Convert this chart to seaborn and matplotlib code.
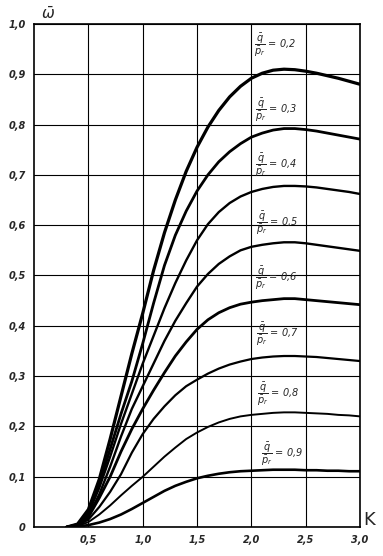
import pandas as pd
import matplotlib
matplotlib.use("Agg")
import matplotlib.pyplot as plt
import seaborn as sns

K = [0.3, 0.4, 0.5, 0.6, 0.7, 0.8, 0.9, 1.0, 1.1, 1.2, 1.3, 1.4, 1.5, 1.6,
     1.7, 1.8, 1.9, 2.0, 2.1, 2.2, 2.3, 2.4, 2.5, 2.6, 2.7, 2.8, 2.9, 3.0]

# omega-bar for each q/p_r ratio
W_02 = [0.0, 0.006, 0.035, 0.095, 0.175, 0.26, 0.345, 0.425, 0.51, 0.585, 0.65, 0.707, 0.755, 0.795,
        0.828, 0.855, 0.876, 0.892, 0.902, 0.908, 0.91, 0.909, 0.906, 0.902, 0.897, 0.892, 0.886, 0.88]
W_03 = [0.0, 0.005, 0.03, 0.085, 0.155, 0.225, 0.29, 0.365, 0.445, 0.52, 0.58, 0.628, 0.668, 0.7,
        0.726, 0.746, 0.762, 0.775, 0.783, 0.789, 0.792, 0.792, 0.79, 0.787, 0.783, 0.779, 0.775, 0.771]
W_04 = [0.0, 0.005, 0.027, 0.078, 0.14, 0.205, 0.265, 0.325, 0.38, 0.435, 0.485, 0.53, 0.57, 0.602,
        0.626, 0.644, 0.657, 0.666, 0.672, 0.676, 0.678, 0.678, 0.677, 0.675, 0.672, 0.669, 0.666, 0.662]
W_05 = [0.0, 0.004, 0.022, 0.065, 0.12, 0.18, 0.235, 0.28, 0.325, 0.37, 0.41, 0.445, 0.478, 0.503,
        0.523, 0.538, 0.55, 0.557, 0.561, 0.564, 0.566, 0.566, 0.564, 0.561, 0.558, 0.555, 0.552, 0.549]
W_06 = [0.0, 0.004, 0.02, 0.058, 0.1, 0.15, 0.195, 0.235, 0.272, 0.307, 0.34, 0.368, 0.393, 0.412,
        0.426, 0.436, 0.443, 0.447, 0.45, 0.452, 0.454, 0.454, 0.452, 0.45, 0.448, 0.446, 0.444, 0.442]
W_07 = [0.0, 0.003, 0.015, 0.04, 0.07, 0.105, 0.148, 0.185, 0.215, 0.24, 0.262, 0.28, 0.293, 0.305,
        0.315, 0.323, 0.329, 0.334, 0.337, 0.339, 0.34, 0.34, 0.339, 0.338, 0.336, 0.334, 0.332, 0.33]
W_08 = [0.0, 0.002, 0.01, 0.025, 0.043, 0.063, 0.082, 0.1, 0.12, 0.14, 0.158, 0.175, 0.188, 0.199,
        0.208, 0.215, 0.22, 0.223, 0.225, 0.227, 0.228, 0.228, 0.227, 0.226, 0.225, 0.223, 0.222, 0.22]
W_09 = [0.0, 0.001, 0.004, 0.009, 0.016, 0.025, 0.036, 0.048, 0.06, 0.072, 0.082, 0.09, 0.097, 0.102,
        0.106, 0.109, 0.111, 0.112, 0.113, 0.114, 0.114, 0.114, 0.113, 0.113, 0.112, 0.112, 0.111, 0.111]

RATIOS = ["0,2", "0,3", "0,4", "0,5", "0,6", "0,7", "0,8", "0,9"]
CURVES = [W_02, W_03, W_04, W_05, W_06, W_07, W_08, W_09]
WIDTHS = [2.3, 2.0, 1.7, 1.7, 2.0, 1.6, 1.4, 1.9]

# label anchor (K, omega) for each ratio annotation
LABEL_K = [2.02, 2.03, 2.03, 2.04, 2.03, 2.04, 2.05, 2.09]
LABEL_W = [0.958, 0.828, 0.718, 0.603, 0.495, 0.383, 0.264, 0.144]

X_TICKS = [0.5, 1.0, 1.5, 2.0, 2.5, 3.0]
X_LABELS = ["0,5", "1,0", "1,5", "2,0", "2,5", "3,0"]
Y_TICKS = [0.0, 0.1, 0.2, 0.3, 0.4, 0.5, 0.6, 0.7, 0.8, 0.9, 1.0]
Y_LABELS = ["0", "0,1", "0,2", "0,3", "0,4", "0,5", "0,6", "0,7", "0,8", "0,9", "1,0"]

frames = []
for r, w in zip(RATIOS, CURVES):
    frames.append(pd.DataFrame({"K": K, "w": w, "ratio": r}))
df = pd.concat(frames, ignore_index=True)

sns.set_style("white")
fig = plt.figure(figsize=(3.83, 5.56), dpi=100)
ax = fig.add_axes([0.089, 0.052, 0.851, 0.905])

for r, lw in zip(RATIOS, WIDTHS):
    sns.lineplot(data=df[df["ratio"] == r], x="K", y="w", color="black",
                 linewidth=lw, ax=ax, legend=False, solid_joinstyle="round")

ax.set_xlim(0, 3.0)
ax.set_ylim(0, 1.0)
ax.set_xticks(X_TICKS)
ax.set_xticklabels(X_LABELS, fontsize=7, style="italic", fontweight="bold")
ax.set_yticks(Y_TICKS)
ax.set_yticklabels(Y_LABELS, fontsize=7, style="italic", fontweight="bold")
ax.tick_params(length=0, pad=6)
ax.grid(True, color="black", linewidth=0.8)
ax.set_xlabel("")
ax.set_ylabel("")
for s in ax.spines.values():
    s.set_color("black")
    s.set_linewidth(1.2)

for r, lk, lw in zip(RATIOS, LABEL_K, LABEL_W):
    ax.text(lk, lw, r"$\dfrac{\bar{q}}{\bar{p}_r}$" + " = " + r, fontsize=7,
            style="italic", va="center", ha="left")

fig.text(0.125, 0.975, r"$\bar{\omega}$", fontsize=11, ha="center", va="center")
fig.text(0.965, 0.065, "K", fontsize=13, ha="center", va="center")

fig.savefig("out.png", dpi=100)
